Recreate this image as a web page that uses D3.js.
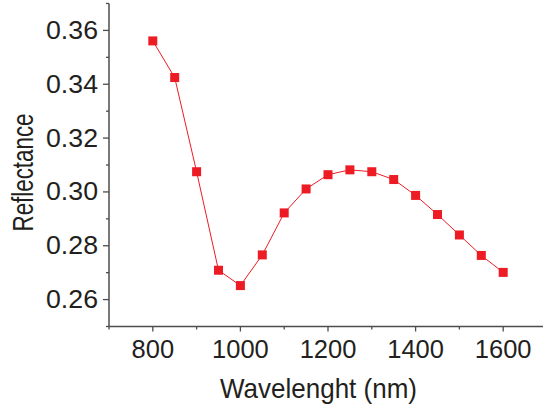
<!DOCTYPE html>
<html>
<head>
<meta charset="utf-8">
<script src="https://cdn.jsdelivr.net/npm/d3@7"></script>
<style>
  body { margin: 0; background: #fff; }
  text { font-family: "Liberation Sans", Arial, sans-serif; fill: #231f20; }
</style>
</head>
<body>
<svg id="chart"></svg>
<script>
// wavelength (nm) and measured reflectance
const wavelengths = [800, 850, 900, 950, 1000, 1050, 1100, 1150, 1200, 1250, 1300, 1350, 1400, 1450, 1500, 1550, 1600];
const reflectance = [0.3561, 0.3425, 0.3075, 0.2709, 0.2652, 0.2766, 0.2922, 0.3011, 0.3064, 0.3082, 0.3075, 0.3046, 0.2987, 0.2916, 0.2840, 0.2764, 0.2701];

const xMajor = [800, 1000, 1200, 1400, 1600];
const xMinor = [700, 900, 1100, 1300, 1500];
const yMajor = [0.26, 0.28, 0.30, 0.32, 0.34, 0.36];
const yMinor = [0.25, 0.27, 0.29, 0.31, 0.33, 0.35, 0.37];

const width = 543, height = 406;
const margin = { left: 109, top: 3.5, bottom: 79.5 };

const svg = d3.select('#chart')
  .attr('width', width)
  .attr('height', height);

const x = d3.scaleLinear().domain([700, 1700]).range([margin.left, 547]);
const y = d3.scaleLinear().domain([0.25, 0.37]).range([height - margin.bottom, margin.top]);

const axisColor = '#4d4d4d';

// x axis
const xAxisG = svg.append('g')
  .attr('transform', `translate(0, ${y(0.25)})`);
xAxisG.append('line')
  .attr('x1', x(700)).attr('x2', width)
  .attr('stroke', axisColor).attr('stroke-width', 1.5);
xAxisG.selectAll('.major')
  .data(xMajor)
  .join('line')
  .attr('x1', d => x(d)).attr('x2', d => x(d))
  .attr('y1', 0).attr('y2', 5)
  .attr('stroke', axisColor).attr('stroke-width', 1.3);
xAxisG.selectAll('.minor')
  .data(xMinor)
  .join('line')
  .attr('class', 'minor')
  .attr('x1', d => x(d)).attr('x2', d => x(d))
  .attr('y1', 0).attr('y2', 3)
  .attr('stroke', axisColor).attr('stroke-width', 1.3);
xAxisG.selectAll('text')
  .data(xMajor)
  .join('text')
  .attr('x', d => x(d))
  .attr('y', 31.5)
  .attr('text-anchor', 'middle')
  .attr('font-size', 25.5)
  .text(d => d);

// y axis
const yAxisG = svg.append('g')
  .attr('transform', `translate(${x(700)}, 0)`);
yAxisG.append('line')
  .attr('y1', y(0.37)).attr('y2', y(0.25))
  .attr('stroke', axisColor).attr('stroke-width', 1.5);
yAxisG.selectAll('.major')
  .data(yMajor)
  .join('line')
  .attr('class', 'major')
  .attr('y1', d => y(d)).attr('y2', d => y(d))
  .attr('x1', 0).attr('x2', -6)
  .attr('stroke', axisColor).attr('stroke-width', 1.3);
yAxisG.selectAll('.minor')
  .data(yMinor)
  .join('line')
  .attr('class', 'minor')
  .attr('y1', d => y(d)).attr('y2', d => y(d))
  .attr('x1', 0).attr('x2', -3)
  .attr('stroke', axisColor).attr('stroke-width', 1.3);
yAxisG.selectAll('text')
  .data(yMajor)
  .join('text')
  .attr('x', -11)
  .attr('y', d => y(d) + 8.5)
  .attr('text-anchor', 'end')
  .attr('font-size', 25.5)
  .attr('textLength', 52)
  .attr('lengthAdjust', 'spacingAndGlyphs')
  .text(d => d.toFixed(2));

// axis titles
svg.append('text')
  .attr('x', 318.5)
  .attr('y', 398)
  .attr('text-anchor', 'middle')
  .attr('font-size', 28)
  .attr('textLength', 197)
  .attr('lengthAdjust', 'spacingAndGlyphs')
  .text('Wavelenght (nm)');

svg.append('text')
  .attr('transform', 'translate(33, 172.5) rotate(-90)')
  .attr('text-anchor', 'middle')
  .attr('font-size', 29)
  .attr('textLength', 118)
  .attr('lengthAdjust', 'spacingAndGlyphs')
  .text('Reflectance');

// data line + markers
const points = wavelengths.map((w, i) => [w, reflectance[i]]);
const red = '#ed1c24';

svg.append('path')
  .datum(points)
  .attr('fill', 'none')
  .attr('stroke', red)
  .attr('stroke-width', 1)
  .attr('d', d3.line().x(d => x(d[0])).y(d => y(d[1])));

svg.selectAll('rect.pt')
  .data(points)
  .join('rect')
  .attr('class', 'pt')
  .attr('x', d => x(d[0]) - 4.5)
  .attr('y', d => y(d[1]) - 4.5)
  .attr('width', 9)
  .attr('height', 9)
  .attr('fill', red);
</script>
</body>
</html>
